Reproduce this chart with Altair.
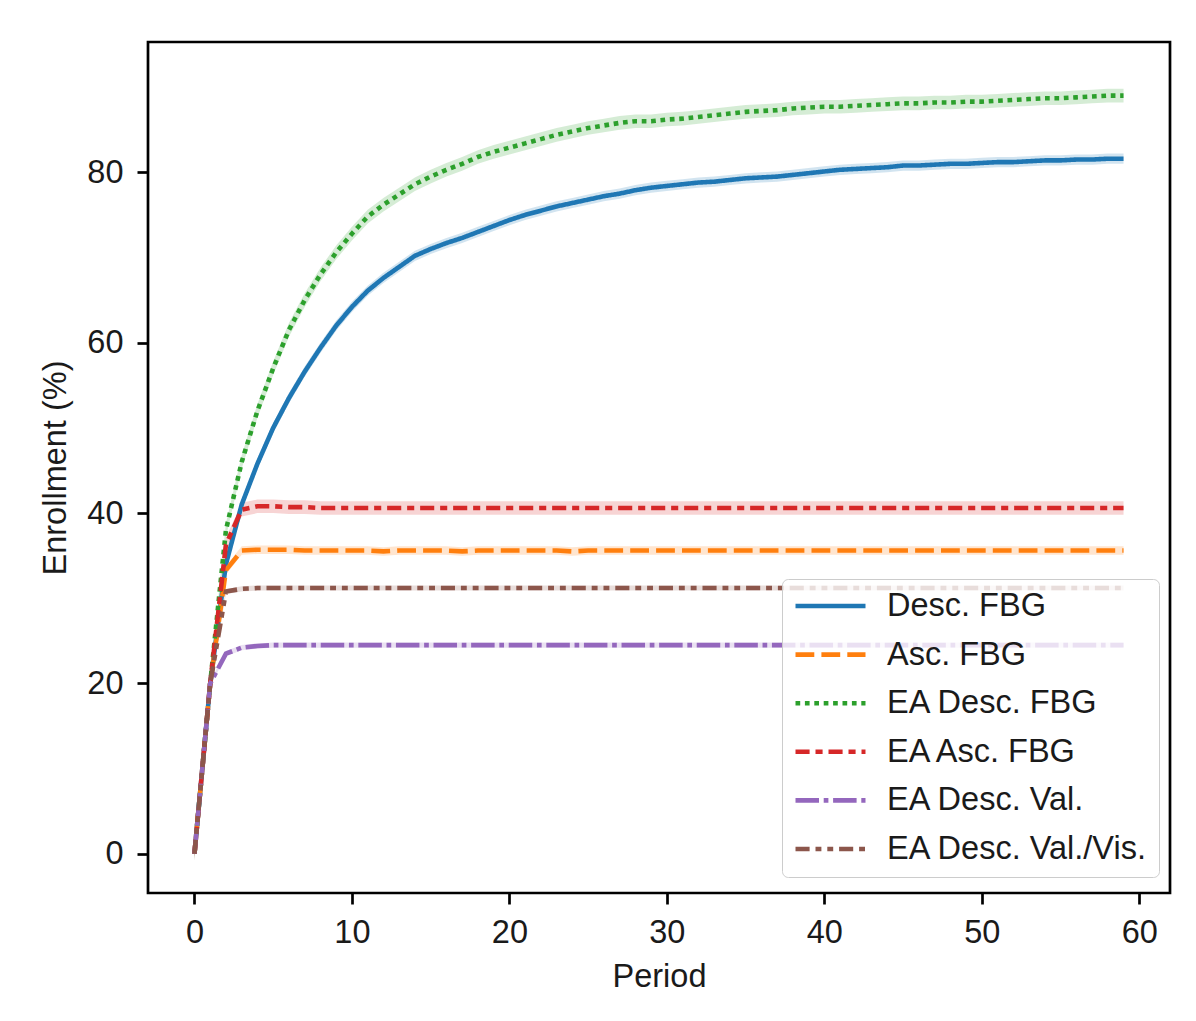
import altair as alt
import pandas as pd

periods = list(range(60))

series_names = ["Desc. FBG", "Asc. FBG", "EA Desc. FBG", "EA Asc. FBG",
                "EA Desc. Val.", "EA Desc. Val./Vis."]
colors = ["#1f77b4", "#ff7f0e", "#2ca02c", "#d62728", "#9467bd", "#8c564b"]

desc_fbg = [0.0, 20.0, 34.0, 41.0, 45.8, 50.0, 53.5, 56.6, 59.4, 62.0,
            64.2, 66.1, 67.6, 68.9, 70.2, 71.0, 71.7, 72.3, 73.0, 73.7,
            74.4, 75.0, 75.5, 76.0, 76.4, 76.8, 77.2, 77.5, 77.9, 78.2,
            78.4, 78.6, 78.8, 78.9, 79.1, 79.3, 79.4, 79.5, 79.7, 79.9,
            80.1, 80.3, 80.4, 80.5, 80.6, 80.8, 80.8, 80.9, 81.0, 81.0,
            81.1, 81.2, 81.2, 81.3, 81.4, 81.4, 81.5, 81.5, 81.6, 81.6]
asc_fbg = [0.0, 20.0, 33.3, 35.6, 35.7, 35.7, 35.7, 35.6, 35.6, 35.6,
           35.6, 35.6, 35.5, 35.6, 35.6, 35.6, 35.6, 35.5, 35.6, 35.6,
           35.6, 35.6, 35.6, 35.6, 35.5, 35.6, 35.6, 35.6, 35.6, 35.6,
           35.6, 35.6, 35.6, 35.6, 35.6, 35.6, 35.6, 35.6, 35.6, 35.6,
           35.6, 35.6, 35.6, 35.6, 35.6, 35.6, 35.6, 35.6, 35.6, 35.6,
           35.6, 35.6, 35.6, 35.6, 35.6, 35.6, 35.6, 35.6, 35.6, 35.6]
ea_desc_fbg = [0.0, 20.0, 38.0, 46.0, 52.0, 57.0, 61.5, 65.0, 68.0, 70.6,
               72.8, 74.8, 76.2, 77.4, 78.6, 79.5, 80.3, 81.0, 81.8, 82.4,
               82.9, 83.4, 83.9, 84.4, 84.8, 85.2, 85.5, 85.8, 86.0, 86.0,
               86.2, 86.3, 86.5, 86.7, 86.9, 87.1, 87.2, 87.3, 87.5, 87.6,
               87.7, 87.7, 87.8, 87.9, 88.0, 88.1, 88.1, 88.2, 88.2, 88.3,
               88.3, 88.4, 88.5, 88.6, 88.7, 88.7, 88.8, 88.9, 89.0, 89.0]
ea_asc_fbg = [0.0, 20.0, 36.3, 40.4, 40.8, 40.8, 40.7, 40.7, 40.6, 40.6,
              40.6, 40.6, 40.6, 40.6, 40.6, 40.6, 40.6, 40.6, 40.6, 40.6,
              40.6, 40.6, 40.6, 40.6, 40.6, 40.6, 40.6, 40.6, 40.6, 40.6,
              40.6, 40.6, 40.6, 40.6, 40.6, 40.6, 40.6, 40.6, 40.6, 40.6,
              40.6, 40.6, 40.6, 40.6, 40.6, 40.6, 40.6, 40.6, 40.6, 40.6,
              40.6, 40.6, 40.6, 40.6, 40.6, 40.6, 40.6, 40.6, 40.6, 40.6]
ea_desc_val = [0.0, 20.0, 23.5, 24.2, 24.4, 24.5, 24.5, 24.5, 24.5, 24.5,
               24.5, 24.5, 24.5, 24.5, 24.5, 24.5, 24.5, 24.5, 24.5, 24.5,
               24.5, 24.5, 24.5, 24.5, 24.5, 24.5, 24.5, 24.5, 24.5, 24.5,
               24.5, 24.5, 24.5, 24.5, 24.5, 24.5, 24.5, 24.5, 24.5, 24.5,
               24.5, 24.5, 24.5, 24.5, 24.5, 24.5, 24.5, 24.5, 24.5, 24.5,
               24.5, 24.5, 24.5, 24.5, 24.5, 24.5, 24.5, 24.5, 24.5, 24.5]
ea_desc_valvis = [0.0, 20.0, 30.8, 31.1, 31.2, 31.2, 31.2, 31.2, 31.2, 31.2,
                  31.2, 31.2, 31.2, 31.2, 31.2, 31.2, 31.2, 31.2, 31.2, 31.2,
                  31.2, 31.2, 31.2, 31.2, 31.2, 31.2, 31.2, 31.2, 31.2, 31.2,
                  31.2, 31.2, 31.2, 31.2, 31.2, 31.2, 31.2, 31.2, 31.2, 31.2,
                  31.2, 31.2, 31.2, 31.2, 31.2, 31.2, 31.2, 31.2, 31.2, 31.2,
                  31.2, 31.2, 31.2, 31.2, 31.2, 31.2, 31.2, 31.2, 31.2, 31.2]

ci_half = [0.6, 0.5, 0.8, 0.8, 0.3, 0.3]

all_series = [desc_fbg, asc_fbg, ea_desc_fbg, ea_asc_fbg, ea_desc_val, ea_desc_valvis]

LW = 4.6
dashes = [
    [1, 0],
    [18.8, 7.1],
    [4.7, 4.7],
    [14.1, 5.9, 7.1, 5.9],
    [23.5, 4.7, 4.7, 4.7],
    [14.1, 5.9, 5.9, 5.9, 5.9, 5.9],
]

rows = []
for name, vals, ci in zip(series_names, all_series, ci_half):
    for p, v in zip(periods, vals):
        rows.append({"Period": p, "Enrollment": v, "lo": v - ci, "hi": v + ci, "series": name})
df = pd.DataFrame(rows)

FONT = "Liberation Sans"
FS = 32.5

xscale = alt.Scale(domain=[-2.95, 61.95], nice=False, zero=False)
yscale = alt.Scale(domain=[-4.6, 95.3], nice=False, zero=False)
cscale = alt.Scale(domain=series_names, range=colors)
dscale = alt.Scale(domain=series_names, range=dashes)

base = alt.Chart(df)

bands = base.mark_area(opacity=0.2).encode(
    x=alt.X("Period:Q", scale=xscale),
    y=alt.Y("lo:Q", scale=yscale),
    y2="hi:Q",
    fill=alt.Fill("series:N", scale=cscale, legend=None),
)

legend = alt.Legend(
    title=None, orient="none", legendX=634, legendY=537,
    fillColor="rgba(255,255,255,0.8)", strokeColor="#cccccc", cornerRadius=6,
    padding=11, labelFont=FONT, labelFontSize=FS, labelColor="#1a1a1a",
    symbolType="stroke", symbolSize=4900, symbolStrokeWidth=LW,
    labelOffset=19, rowPadding=15.6, clipHeight=32, labelLimit=400,
)

lines = base.mark_line(strokeWidth=LW).encode(
    x=alt.X("Period:Q", scale=xscale,
            axis=alt.Axis(title="Period", values=[0, 10, 20, 30, 40, 50, 60])),
    y=alt.Y("Enrollment:Q", scale=yscale,
            axis=alt.Axis(title="Enrollment (%)", values=[0, 20, 40, 60, 80])),
    color=alt.Color("series:N", scale=cscale, legend=legend),
    strokeDash=alt.StrokeDash("series:N", scale=dscale, legend=legend),
)

chart = alt.layer(bands, lines).resolve_scale(fill="independent").properties(
    width=1022, height=851,
    autosize=alt.AutoSizeParams(type="none"),
    padding={"left": 140, "top": 34, "right": 18, "bottom": 120},
).configure_view(
    stroke="black", strokeWidth=2.7
).configure_axis(
    domain=False, grid=False, ticks=True, tickSize=11, tickWidth=2.7,
    tickColor="black", labelFont=FONT, labelFontSize=FS, labelColor="#1a1a1a",
    titleFont=FONT, titleFontSize=FS, titleFontWeight="normal", titleColor="#1a1a1a",
).configure_axisX(
    labelPadding=12, titlePadding=12
).configure_axisY(
    labelPadding=14, titlePadding=14
)

chart.save("out.html", embed_options={"renderer": "svg", "actions": False})
